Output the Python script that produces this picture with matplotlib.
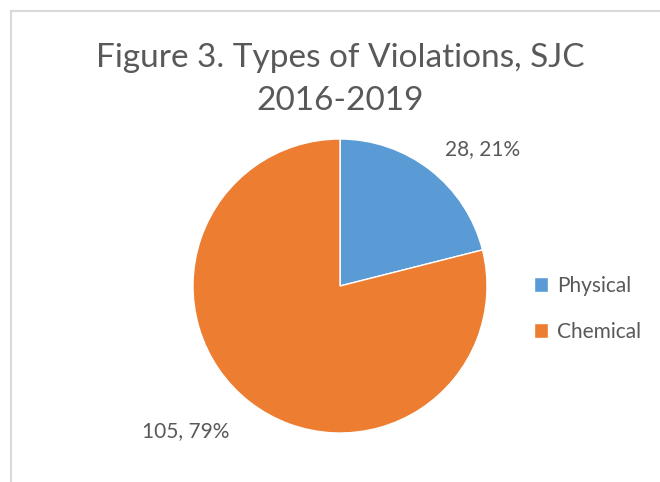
import matplotlib.pyplot as plt
from matplotlib.lines import Line2D

plt.rcParams['font.family'] = ['Lato', 'DejaVu Sans']

categories = ['Physical', 'Chemical']
counts = [28, 105]
percents = [21, 79]
colors = ['#5B9BD5', '#ED7D31']
text_color = '#595959'

W, H = 660, 482
fig = plt.figure(figsize=(W / 100, H / 100), dpi=100)

# chart border (light grey, cut at right/bottom like the screenshot)
fig.add_artist(Line2D([11 / W, 1], [1 - 11 / H, 1 - 11 / H], color='#d9d9d9', lw=1.5))
fig.add_artist(Line2D([11 / W, 11 / W], [0, 1 - 11 / H], color='#d9d9d9', lw=1.5))

cx, cy, r = 340, 286, 147
ax = fig.add_axes([(cx - r) / W, (H - cy - r) / H, 2 * r / W, 2 * r / H])
wedges, _ = ax.pie(counts, colors=colors, startangle=90, counterclock=False,
                   wedgeprops=dict(edgecolor='white', linewidth=1))
ax.set_xlim(-1, 1)
ax.set_ylim(-1, 1)
ax.set_aspect('equal')

label_pos = [(0.97, 0.93), (-1.05, -0.99)]
for c, p, (x, y) in zip(counts, percents, label_pos):
    ax.text(x, y, f'{c}, {p}%', ha='center', va='center', fontsize=15,
            color=text_color, clip_on=False)

fig.text(340 / W, 1 - 58 / H, 'Figure 3. Types of Violations, SJC',
         ha='center', va='center', fontsize=24, color=text_color)
fig.text(340 / W, 1 - 101 / H, '2016-2019',
         ha='center', va='center', fontsize=24, color=text_color)

fig.legend(wedges, categories, loc='center left', bbox_to_anchor=(515 / W, 1 - 309 / H),
           frameon=False, fontsize=15, labelcolor=text_color, handlelength=0.7,
           handleheight=0.7, handletextpad=0.4, labelspacing=1.25)

fig.savefig('out.png', dpi=100)
